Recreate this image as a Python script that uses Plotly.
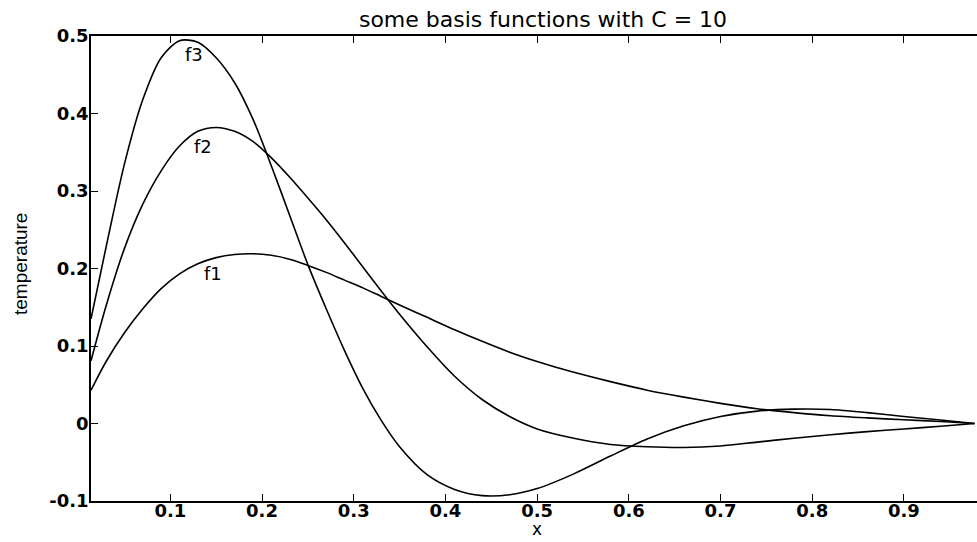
import plotly.graph_objects as go

# x sample positions (shared by all curves)
x_vals = [0.0135, 0.03, 0.05, 0.07, 0.09, 0.11, 0.13, 0.15, 0.17, 0.19, 0.21, 0.23,
          0.25, 0.27, 0.29, 0.31, 0.33, 0.35, 0.38, 0.41, 0.44, 0.47, 0.50, 0.54,
          0.58, 0.62, 0.66, 0.70, 0.74, 0.78, 0.82, 0.86, 0.90, 0.94, 0.977]

f1_vals = [0.043, 0.080, 0.117, 0.148, 0.174, 0.193, 0.206, 0.214, 0.218, 0.219, 0.217, 0.212,
           0.204, 0.195, 0.185, 0.175, 0.164, 0.153, 0.137, 0.121, 0.106, 0.092, 0.080, 0.066,
           0.054, 0.043, 0.034, 0.026, 0.019, 0.014, 0.010, 0.0072, 0.0048, 0.0025, 0.0]

f2_vals = [0.081, 0.152, 0.226, 0.283, 0.326, 0.358, 0.377, 0.382, 0.377, 0.364, 0.343, 0.318,
           0.291, 0.263, 0.233, 0.202, 0.171, 0.141, 0.099, 0.061, 0.031, 0.009, -0.007, -0.019,
           -0.027, -0.030, -0.031, -0.029, -0.024, -0.019, -0.0145, -0.0105, -0.007, -0.0035, 0.0]

f3_vals = [0.135, 0.228, 0.335, 0.418, 0.472, 0.494, 0.492, 0.472, 0.440, 0.393, 0.333, 0.269,
           0.205, 0.148, 0.094, 0.045, 0.004, -0.030, -0.066, -0.085, -0.093, -0.092, -0.084, -0.065,
           -0.042, -0.020, -0.003, 0.009, 0.016, 0.0185, 0.018, 0.014, 0.009, 0.0045, 0.0]

series_names = ["f1", "f2", "f3"]
label_pos = [(0.1462, 0.193), (0.1353, 0.357), (0.1253, 0.476)]

x_ticks = [0.1, 0.2, 0.3, 0.4, 0.5, 0.6, 0.7, 0.8, 0.9]
x_ticklabels = ["0.1", "0.2", "0.3", "0.4", "0.5", "0.6", "0.7", "0.8", "0.9"]
y_ticks = [-0.1, 0, 0.1, 0.2, 0.3, 0.4, 0.5]
y_ticklabels = ["-0.1", "0", "0.1", "0.2", "0.3", "0.4", "0.5"]

title_text = "some basis functions with C = 10"
x_label = "x"
y_label = "temperature"

fig = go.Figure()
for name, ys in zip(series_names, [f1_vals, f2_vals, f3_vals]):
    fig.add_trace(go.Scatter(x=x_vals, y=ys, mode="lines", name=name,
                             line=dict(color="black", width=1.6, shape="spline", smoothing=0.8)))

for name, (lx, ly) in zip(series_names, label_pos):
    fig.add_annotation(x=lx, y=ly, text=name, showarrow=False,
                       font=dict(family="DejaVu Sans", size=18, color="black"),
                       xanchor="center", yanchor="middle")

W, H = 977, 542
L, R, T, B = 91, 0, 36, 41
pw = W - L - R
ph = H - T - B

# axis titles as annotations at pixel-matched places
fig.add_annotation(xref="paper", yref="paper", x=(537 - L) / pw, y=(H - B - 541) / ph,
                   text=x_label, showarrow=False, xanchor="center", yanchor="bottom",
                   font=dict(family="DejaVu Sans", size=17, color="black"))
fig.add_annotation(xref="paper", yref="paper", x=(20 - L) / pw, y=(H - B - 264) / ph,
                   text=y_label, showarrow=False, textangle=-90, xanchor="center", yanchor="middle",
                   font=dict(family="Liberation Sans", size=19, color="black"))

tick_font = dict(family="DejaVu Sans", size=18, color="black", weight="bold")

fig.update_layout(
    width=W, height=H,
    margin=dict(l=L, r=R, t=T, b=B),
    paper_bgcolor="white", plot_bgcolor="white",
    showlegend=False,
    title=dict(text=title_text, x=543 / W, xanchor="center", y=1 - 19 / H, yanchor="middle",
               font=dict(family="DejaVu Sans", size=22, color="black")),
    xaxis=dict(range=[0.0135, 0.9797], tickvals=x_ticks, ticktext=x_ticklabels,
               ticks="inside", ticklen=7, tickwidth=1.2, tickcolor="black",
               showline=True, linecolor="black", linewidth=1.5, mirror="ticks",
               showgrid=False, zeroline=False, tickfont=tick_font, automargin=False,
               ticklabelstandoff=-7),
    yaxis=dict(range=[-0.1, 0.5], tickvals=y_ticks, ticktext=y_ticklabels,
               ticks="inside", ticklen=7, tickwidth=1.2, tickcolor="black",
               showline=True, linecolor="black", linewidth=1.5, mirror=False,
               showgrid=False, zeroline=False, tickfont=tick_font, automargin=False,
               ticklabelstandoff=-3),
)

fig.write_html("out.html")
